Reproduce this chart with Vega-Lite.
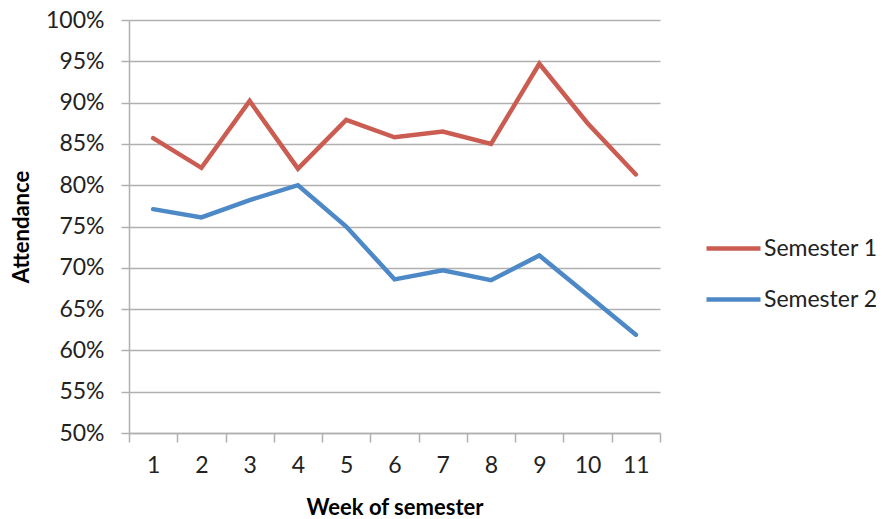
{
  "$schema": "https://vega.github.io/schema/vega-lite/v6.json",
  "autosize": "none",
  "width": 531,
  "height": 413,
  "padding": {"left": 129, "top": 20, "right": 227, "bottom": 86},
  "background": "white",
  "config": {
    "font": "Lato",
    "view": {"stroke": null}
  },
  "data": {
    "values": [
      {"week": 1, "semester": "Semester 1", "attendance": 0.857},
      {"week": 2, "semester": "Semester 1", "attendance": 0.821},
      {"week": 3, "semester": "Semester 1", "attendance": 0.902},
      {"week": 4, "semester": "Semester 1", "attendance": 0.820},
      {"week": 5, "semester": "Semester 1", "attendance": 0.879},
      {"week": 6, "semester": "Semester 1", "attendance": 0.858},
      {"week": 7, "semester": "Semester 1", "attendance": 0.865},
      {"week": 8, "semester": "Semester 1", "attendance": 0.850},
      {"week": 9, "semester": "Semester 1", "attendance": 0.947},
      {"week": 10, "semester": "Semester 1", "attendance": 0.875},
      {"week": 11, "semester": "Semester 1", "attendance": 0.813},
      {"week": 1, "semester": "Semester 2", "attendance": 0.771},
      {"week": 2, "semester": "Semester 2", "attendance": 0.761},
      {"week": 3, "semester": "Semester 2", "attendance": 0.782},
      {"week": 4, "semester": "Semester 2", "attendance": 0.800},
      {"week": 5, "semester": "Semester 2", "attendance": 0.750},
      {"week": 6, "semester": "Semester 2", "attendance": 0.686},
      {"week": 7, "semester": "Semester 2", "attendance": 0.697},
      {"week": 8, "semester": "Semester 2", "attendance": 0.685},
      {"week": 9, "semester": "Semester 2", "attendance": 0.715},
      {"week": 10, "semester": "Semester 2", "attendance": 0.667},
      {"week": 11, "semester": "Semester 2", "attendance": 0.619}
    ]
  },
  "mark": {"type": "line", "strokeWidth": 4.5, "strokeCap": "round", "strokeJoin": "miter"},
  "encoding": {
    "x": {
      "field": "week",
      "type": "ordinal",
      "bandPosition": 0.5,
      "scale": {"type": "band", "paddingInner": 0, "paddingOuter": 0},
      "axis": {
        "title": "Week of semester",
        "titleFont": "Lato",
        "titleFontSize": 22,
        "titleFontWeight": "bold",
        "titleColor": "#000000",
        "titlePadding": 20,
        "labelAngle": 0,
        "labelFont": "Lato",
        "labelFontSize": 23,
        "labelColor": "#222222",
        "labelPadding": 12,
        "tickBand": "extent",
        "tickSize": 9,
        "tickWidth": 1.5,
        "tickColor": "#b0b0b0",
        "domainColor": "#b0b0b0",
        "domainWidth": 1.5,
        "grid": false
      }
    },
    "y": {
      "field": "attendance",
      "type": "quantitative",
      "scale": {"domain": [0.5, 1.0], "nice": false, "zero": false},
      "axis": {
        "title": "Attendance",
        "titleFont": "Lato",
        "titleFontSize": 22,
        "titleFontWeight": "bold",
        "titleColor": "#000000",
        "titlePadding": 12,
        "values": [0.5, 0.55, 0.6, 0.65, 0.7, 0.75, 0.8, 0.85, 0.9, 0.95, 1.0],
        "format": ".0%",
        "labelFont": "Lato",
        "labelFontSize": 23,
        "labelColor": "#222222",
        "labelPadding": 17,
        "tickSize": 8,
        "tickWidth": 1.5,
        "tickColor": "#b0b0b0",
        "domainColor": "#b0b0b0",
        "domainWidth": 1.5,
        "grid": true,
        "gridColor": "#b0b0b0",
        "gridWidth": 1.5
      }
    },
    "color": {
      "field": "semester",
      "type": "nominal",
      "scale": {"domain": ["Semester 1", "Semester 2"], "range": ["#CB5C52", "#4D89C6"]},
      "legend": {
        "title": null,
        "orient": "none",
        "legendX": 575,
        "legendY": 199,
        "padding": 0,
        "symbolType": "stroke",
        "symbolSize": 2916,
        "symbolStrokeWidth": 4.5,
        "labelFont": "Lato",
        "labelFontSize": 23,
        "labelColor": "#222222",
        "labelOffset": 1,
        "rowPadding": 9
      }
    }
  }
}
